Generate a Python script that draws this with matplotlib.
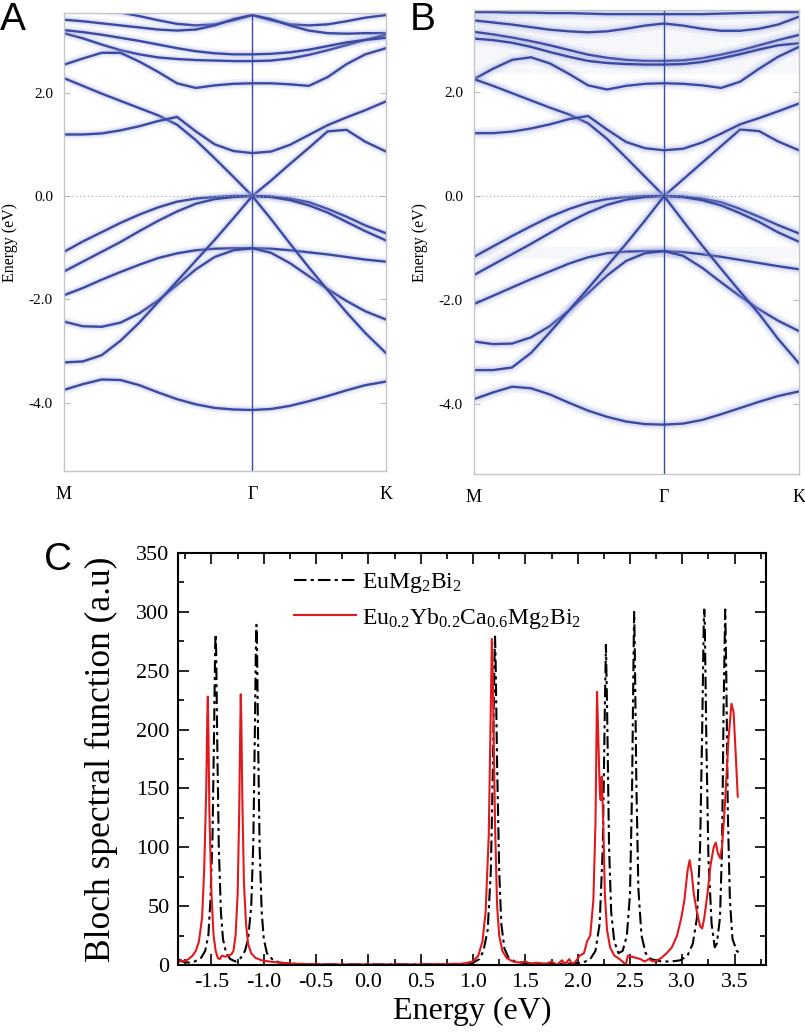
import matplotlib
matplotlib.use('Agg')
import matplotlib.pyplot as plt
from matplotlib.ticker import MultipleLocator, FixedLocator, FormatStrFormatter

plt.rcParams['font.family'] = ['Liberation Serif', 'DejaVu Serif']
plt.rcParams['mathtext.fontset'] = 'custom'
plt.rcParams['mathtext.rm'] = 'Liberation Serif'
plt.rcParams['mathtext.it'] = 'Liberation Serif:italic'
plt.rcParams['axes.unicode_minus'] = False

# ---------------- band-structure data (panels A, B) ----------------
K_PTS = [0.0, 0.1, 0.2, 0.3, 0.4, 0.5, 0.6, 0.7, 0.8, 0.9, 1.0,
         1.1, 1.2, 1.3, 1.4, 1.5, 1.6, 1.71]
K_TICKS = [0.0, 1.0, 1.71]
K_LABELS = ['M', 'Γ', 'K']
E_TICKS = [-4.0, -2.0, 0.0, 2.0]
E_TICK_LABELS = ['-4.0', '-2.0', '0.0', '2.0']

# Panel A (EuMg2Bi2)
A_c7 = [3.70, 3.65, 3.60, 3.55, 3.48, 3.40, 3.33, 3.30, 3.32, 3.40, 3.50,
        3.40, 3.32, 3.30, 3.32, 3.38, 3.45, 3.50]
A_c6 = [3.41, 3.38, 3.34, 3.30, 3.26, 3.22, 3.20, 3.22, 3.30, 3.42, 3.50,
        3.42, 3.30, 3.20, 3.15, 3.14, 3.15, 3.15]
A_c5 = [3.15, 3.05, 2.93, 2.82, 2.74, 2.68, 2.65, 2.63, 2.62, 2.61, 2.61,
        2.62, 2.66, 2.73, 2.82, 2.92, 3.02, 3.12]
A_c4 = [3.21, 3.17, 3.12, 3.06, 3.00, 2.93, 2.86, 2.80, 2.76, 2.74, 2.74,
        2.75, 2.78, 2.83, 2.90, 2.97, 3.02, 3.06]
A_c3 = [2.54, 2.66, 2.77, 2.77, 2.60, 2.40, 2.18, 2.09, 2.14, 2.17, 2.18,
        2.18, 2.16, 2.13, 2.30, 2.55, 2.74, 2.86]
A_cX = [2.28, 2.13, 1.98, 1.84, 1.70, 1.56, 1.38, 1.08, 0.73, 0.37, 0.00,
        0.30, 0.62, 0.93, 1.25, 1.28, 1.05, 0.86]
A_cY = [1.19, 1.19, 1.21, 1.27, 1.35, 1.45, 1.53, 1.25, 1.00, 0.87, 0.83,
        0.86, 0.99, 1.18, 1.37, 1.52, 1.66, 1.83]
A_v1 = [-1.08, -0.88, -0.70, -0.52, -0.36, -0.22, -0.11, -0.05, -0.02, 0.00, 0.00,
        -0.01, -0.05, -0.12, -0.25, -0.40, -0.57, -0.72]
A_v2 = [-1.46, -1.27, -1.08, -0.89, -0.68, -0.48, -0.30, -0.15, -0.06, -0.02, 0.00,
        -0.02, -0.08, -0.18, -0.32, -0.50, -0.68, -0.86]
A_v3 = [-1.92, -1.78, -1.62, -1.47, -1.33, -1.20, -1.11, -1.05, -1.02, -1.01, -1.01,
        -1.02, -1.05, -1.09, -1.13, -1.18, -1.23, -1.27]
A_v4 = [-2.43, -2.52, -2.53, -2.45, -2.27, -2.02, -1.72, -1.42, -1.18, -1.05, -1.01,
        -1.10, -1.30, -1.55, -1.80, -2.03, -2.23, -2.39]
A_v5 = [-3.22, -3.20, -3.08, -2.80, -2.45, -2.05, -1.65, -1.25, -0.85, -0.43, 0.00,
        -0.45, -0.92, -1.38, -1.82, -2.25, -2.65, -3.04]
A_v6 = [-3.75, -3.64, -3.55, -3.56, -3.66, -3.80, -3.93, -4.03, -4.10, -4.13, -4.14,
        -4.12, -4.06, -3.97, -3.87, -3.76, -3.66, -3.59]

# Panel B (Eu0.2Yb0.2Ca0.6Mg2Bi2)
B_c7 = [3.54, 3.54, 3.53, 3.53, 3.52, 3.52, 3.51, 3.50, 3.50, 3.50, 3.50,
        3.50, 3.50, 3.51, 3.52, 3.53, 3.54, 3.54]
B_c6 = [3.38, 3.34, 3.30, 3.25, 3.20, 3.17, 3.15, 3.17, 3.22, 3.28, 3.32,
        3.28, 3.22, 3.18, 3.18, 3.22, 3.30, 3.45]
B_c5 = [3.16, 3.11, 3.05, 2.98, 2.90, 2.81, 2.72, 2.66, 2.62, 2.60, 2.60,
        2.61, 2.65, 2.72, 2.80, 2.90, 3.00, 3.10]
B_c4 = [3.03, 3.00, 2.95, 2.87, 2.77, 2.68, 2.60, 2.56, 2.54, 2.53, 2.53,
        2.54, 2.58, 2.65, 2.73, 2.82, 2.90, 2.94]
B_c3 = [2.25, 2.45, 2.62, 2.67, 2.55, 2.35, 2.13, 2.05, 2.12, 2.16, 2.17,
        2.16, 2.13, 2.08, 2.20, 2.45, 2.68, 2.87]
B_cX = [2.25, 2.12, 1.98, 1.84, 1.70, 1.57, 1.40, 1.10, 0.74, 0.37, 0.00,
        0.32, 0.64, 0.96, 1.28, 1.25, 1.05, 0.88]
B_cY = [1.21, 1.21, 1.24, 1.30, 1.38, 1.48, 1.54, 1.28, 1.04, 0.92, 0.88,
        0.91, 1.03, 1.20, 1.38, 1.50, 1.63, 1.78]
B_v1 = [-1.17, -0.97, -0.77, -0.58, -0.40, -0.25, -0.13, -0.06, -0.02, 0.00, 0.00,
        -0.01, -0.05, -0.12, -0.25, -0.40, -0.56, -0.72]
B_v2 = [-1.52, -1.32, -1.12, -0.92, -0.71, -0.50, -0.32, -0.17, -0.07, -0.02, 0.00,
        -0.02, -0.08, -0.18, -0.33, -0.50, -0.70, -0.88]
B_v3 = [-2.08, -1.92, -1.76, -1.60, -1.45, -1.30, -1.18, -1.10, -1.07, -1.06, -1.06,
        -1.08, -1.12, -1.17, -1.23, -1.29, -1.35, -1.41]
B_v4 = [-2.80, -2.85, -2.84, -2.72, -2.50, -2.20, -1.87, -1.53, -1.25, -1.10, -1.06,
        -1.15, -1.38, -1.66, -1.93, -2.18, -2.40, -2.60]
B_v5 = [-3.35, -3.35, -3.30, -3.02, -2.62, -2.20, -1.78, -1.35, -0.92, -0.47, 0.00,
        -0.48, -0.95, -1.40, -1.84, -2.27, -2.75, -3.22]
B_v6 = [-3.91, -3.78, -3.67, -3.70, -3.82, -3.98, -4.13, -4.25, -4.34, -4.39, -4.40,
        -4.38, -4.31, -4.20, -4.08, -3.96, -3.85, -3.76]

A_BANDS = [A_c7, A_c6, A_c5, A_c4, A_c3, A_cX, A_cY,
           A_v1, A_v2, A_v3, A_v4, A_v5, A_v6]
B_BANDS = [B_c7, B_c6, B_c5, B_c4, B_c3, B_cX, B_cY,
           B_v1, B_v2, B_v3, B_v4, B_v5, B_v6]

# ---------------- Bloch spectral function data (panel C) ----------------
E_EuMg2Bi2 = [-1.82, -1.78, -1.72, -1.66, -1.60, -1.56, -1.53, -1.51, -1.49, -1.475,
              -1.465, -1.46, -1.455, -1.445, -1.43, -1.41, -1.39, -1.36, -1.32, -1.27,
              -1.22, -1.18, -1.15, -1.12, -1.10, -1.085, -1.075, -1.07, -1.065, -1.055,
              -1.04, -1.02, -1.00, -0.97, -0.92, -0.85, -0.70, -0.40, 0.00, 0.50,
              0.90, 1.00, 1.06, 1.10, 1.14, 1.17, 1.19, 1.205, 1.21, 1.215,
              1.23, 1.25, 1.27, 1.30, 1.34, 1.40, 1.50, 1.70, 1.90, 2.05,
              2.12, 2.17, 2.21, 2.24, 2.26, 2.27, 2.28, 2.30, 2.32, 2.35,
              2.39, 2.43, 2.47, 2.50, 2.52, 2.535, 2.54, 2.545, 2.56, 2.58,
              2.61, 2.65, 2.70, 2.80, 2.90, 2.98, 3.05, 3.10, 3.14, 3.17,
              3.19, 3.205, 3.21, 3.215, 3.23, 3.25, 3.28, 3.31, 3.33, 3.36,
              3.38, 3.395, 3.41, 3.42, 3.435, 3.455, 3.48, 3.52, 3.55]
S_EuMg2Bi2 = [5, 3, 2, 3, 6, 12, 25, 55, 110, 200,
              270, 281, 265, 190, 100, 45, 22, 10, 5, 3,
              6, 12, 22, 50, 105, 200, 275, 289, 275, 195,
              100, 45, 22, 10, 5, 2, 1, 0.5, 0.5, 0.5,
              1, 2, 5, 12, 30, 80, 170, 260, 279, 262,
              170, 80, 35, 14, 6, 3, 1.5, 1, 1, 2,
              5, 12, 35, 100, 220, 272, 225, 100, 45, 20,
              10, 12, 25, 60, 150, 270, 300, 275, 160, 65,
              25, 10, 5, 3, 3, 4, 8, 18, 40, 100,
              200, 290, 302, 290, 190, 90, 35, 15, 18, 40,
              100, 220, 302, 250, 130, 55, 22, 12, 10]

E_alloy = [-1.82, -1.79, -1.76, -1.72, -1.68, -1.65, -1.62, -1.59, -1.57, -1.55,
           -1.54, -1.535, -1.53, -1.52, -1.50, -1.48, -1.46, -1.44, -1.42, -1.40,
           -1.37, -1.34, -1.31, -1.29, -1.27, -1.25, -1.235, -1.225, -1.22, -1.215,
           -1.205, -1.19, -1.17, -1.15, -1.12, -1.08, -1.02, -0.95, -0.85, -0.70,
           -0.40, 0.00, 0.50, 0.90, 1.00, 1.05, 1.09, 1.12, 1.15, 1.17,
           1.18, 1.19, 1.21, 1.23, 1.25, 1.28, 1.32, 1.38, 1.45, 1.50,
           1.55, 1.60, 1.70, 1.75, 1.80, 1.85, 1.88, 1.92, 1.95, 1.98,
           2.02, 2.06, 2.09, 2.12, 2.15, 2.17, 2.185, 2.195, 2.21, 2.22,
           2.23, 2.245, 2.26, 2.28, 2.31, 2.35, 2.40, 2.44, 2.46, 2.48,
           2.52, 2.56, 2.60, 2.64, 2.68, 2.72, 2.76, 2.80, 2.85, 2.90,
           2.95, 2.99, 3.02, 3.05, 3.07, 3.09, 3.11, 3.14, 3.17, 3.19,
           3.21, 3.24, 3.27, 3.30, 3.32, 3.34, 3.36, 3.38, 3.41, 3.44,
           3.47, 3.49, 3.51, 3.53]
S_alloy = [2, 4, 3, 5, 8, 12, 20, 40, 80, 150,
           210, 228, 200, 130, 60, 25, 12, 6, 5, 8,
           7, 8, 9, 12, 25, 60, 130, 200, 230, 210,
           140, 70, 35, 18, 10, 6, 4, 3, 2, 1,
           0.5, 0.5, 0.5, 1, 3, 8, 20, 45, 110, 220,
           277, 240, 120, 50, 25, 12, 6, 3, 2, 3,
           1, 2, 1, 3, 0, 4, 1, 5, 0, 3,
           8, 10, 20, 25, 55, 120, 232, 200, 150, 140,
           160, 120, 60, 30, 15, 8, 5, 2, 0, 8,
           7, 6, 5, 3, 5, 3, 4, 6, 10, 15,
           25, 40, 55, 80, 89, 78, 60, 45, 33, 31,
           40, 60, 85, 100, 104, 95, 91, 100, 140, 190,
           222, 215, 180, 143]

LEGEND_LABELS = [r'EuMg$_\mathregular{2}$Bi$_\mathregular{2}$',
                 r'Eu$_\mathregular{0.2}$Yb$_\mathregular{0.2}$Ca$_\mathregular{0.6}$Mg$_\mathregular{2}$Bi$_\mathregular{2}$']

# ---------------- styling ----------------
BAND = '#3a4aa2'
HALO = '#9aa2dc'
FRAME = '#c6c6c6'

W, H = 805, 1033
fig = plt.figure(figsize=(W / 100, H / 100), dpi=100)


def px_axes(left, top, right, bottom):
    return fig.add_axes([left / W, 1 - bottom / H, (right - left) / W, (bottom - top) / H])


def band_panel(ax, bands, ylim, halo_w, halo_a):
    for E in bands:
        ax.plot(K_PTS, E, color=HALO, lw=halo_w, alpha=halo_a,
                solid_joinstyle='round', solid_capstyle='round')
        ax.plot(K_PTS, E, color=HALO, lw=halo_w * 0.55, alpha=halo_a * 1.7,
                solid_joinstyle='round', solid_capstyle='round')
        ax.plot(K_PTS, E, color=BAND, lw=1.7, solid_joinstyle='round')
    ax.axvline(1.0, color=BAND, lw=1.0)
    ax.axhline(0.0, color='#a0a0a0', lw=0.8, ls=(0, (1, 2.5)))
    ax.set_xlim(K_PTS[0], K_PTS[-1])
    ax.set_ylim(*ylim)
    ax.set_yticks(E_TICKS)
    ax.set_yticklabels(E_TICK_LABELS)
    ax.set_xticks(K_TICKS)
    ax.set_xticklabels(K_LABELS)
    ax.tick_params(axis='y', direction='in', length=4, width=0.8, color='#bdbdbd',
                   right=True, labelsize=11, pad=8)
    ax.tick_params(axis='x', length=0, labelsize=13, pad=11)
    for s in ax.spines.values():
        s.set_color(FRAME)
        s.set_linewidth(1.0)
    ax.set_ylabel('Energy (eV)', fontsize=11.5)


axA = px_axes(64, 13, 386, 471)
band_panel(axA, A_BANDS, (-5.32, 3.54), 7.0, 0.13)
axA.yaxis.set_label_coords(-0.143, 0.5)

axB = px_axes(474, 10, 799, 474)
for lo, hi in [(2.35, 3.6), (-1.22, -0.98)]:
    axB.axhspan(lo, hi, color='#e3e6f5', alpha=0.3, lw=0, zorder=0)
band_panel(axB, B_BANDS, (-5.35, 3.58), 8.5, 0.14)
axB.yaxis.set_label_coords(-0.142, 0.5)

fig.text(0.0, 1 - 2 / H, 'A', fontsize=28, family='Liberation Sans', va='top', ha='left')
fig.text(410 / W, 1 - 2 / H, 'B', fontsize=28, family='Liberation Sans', va='top', ha='left')
fig.text(44 / W, 1 - 542 / H, 'C', fontsize=28, family='Liberation Sans', va='top', ha='left')

# ---------------- panel C ----------------
axC = px_axes(178, 553, 766, 965)
axC.plot(E_EuMg2Bi2, S_EuMg2Bi2, color='black', lw=1.5, ls=(0, (6, 2, 1.5, 2)),
         label=LEGEND_LABELS[0])
axC.plot(E_alloy, S_alloy, color='#e3181c', lw=1.5, label=LEGEND_LABELS[1])
axC.set_xlim(-1.82, 3.8)
axC.set_ylim(0, 350)
axC.xaxis.set_major_locator(FixedLocator([-1.5, -1.0, -0.5, 0.0, 0.5, 1.0, 1.5, 2.0, 2.5, 3.0, 3.5]))
axC.xaxis.set_minor_locator(MultipleLocator(0.25))
axC.yaxis.set_major_locator(MultipleLocator(50))
axC.yaxis.set_minor_locator(MultipleLocator(25))
axC.xaxis.set_major_formatter(FormatStrFormatter('%.1f'))
axC.tick_params(which='both', direction='in', top=True, right=True, width=1.2)
axC.tick_params(which='major', length=8, labelsize=16, pad=6)
axC.tick_params(which='minor', length=4)
for s in axC.spines.values():
    s.set_linewidth(1.5)
axC.set_xlabel('Energy (eV)', fontsize=23, labelpad=3)
axC.set_ylabel('Bloch spectral function (a.u)', fontsize=25.5)
axC.yaxis.set_label_coords(-0.102, 0.5)
axC.legend(loc='upper left', bbox_to_anchor=(0.19, 0.968), frameon=False,
           fontsize=17, handlelength=2.6, handletextpad=0.25, labelspacing=0.45,
           borderpad=0.2, borderaxespad=0)

fig.savefig('out.png', dpi=100)
